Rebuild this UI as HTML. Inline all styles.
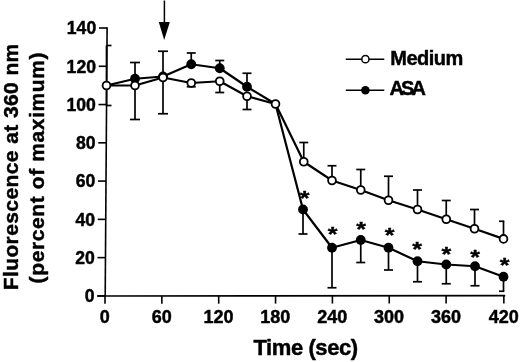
<!DOCTYPE html>
<html><head><meta charset="utf-8"><title>Fluorescence chart</title>
<style>html,body{margin:0;padding:0;background:#fff;overflow:hidden}svg{display:block;will-change:transform}text{font-family:"Liberation Sans",Arial,Helvetica,sans-serif;font-weight:bold;fill:#000;stroke:#000;stroke-width:0.45px;stroke-linejoin:round}</style></head><body>
<svg width="520" height="362" viewBox="0 0 520 362">
<rect width="520" height="362" fill="#fff"/>
<g stroke="#000" stroke-width="1.6" fill="none" stroke-linecap="butt">
<path d="M107.1 27.3 L105.2 296.6"/>
<path d="M97.3 296.0 L505.2 295.6"/>
<path d="M97.25 295.90 L105.25 295.90"/>
<path d="M97.50 257.63 L105.50 257.63"/>
<path d="M97.75 219.36 L105.75 219.36"/>
<path d="M98.00 181.09 L106.00 181.09"/>
<path d="M98.25 142.82 L106.25 142.82"/>
<path d="M98.50 104.55 L106.50 104.55"/>
<path d="M98.75 66.28 L106.75 66.28"/>
<path d="M99.00 28.01 L107.00 28.01"/>
<path d="M105.00 296.00 L105.00 303.80"/>
<path d="M161.85 295.94 L161.85 303.74"/>
<path d="M218.70 295.89 L218.70 303.69"/>
<path d="M275.55 295.83 L275.55 303.63"/>
<path d="M332.40 295.77 L332.40 303.57"/>
<path d="M389.25 295.71 L389.25 303.51"/>
<path d="M446.10 295.66 L446.10 303.46"/>
<path d="M503.85 295.60 L503.85 303.40"/>
</g>
<g stroke="#000" stroke-width="1.7" fill="none">
<path d="M106.5 45.5 L106.5 105.5"/>
<path d="M106.5 45.5 L111.5 45.5"/>
<path d="M106.5 105.5 L111.5 105.5"/>
<path d="M135 62.5 L135 119.5"/>
<path d="M130 62.5 L140 62.5"/>
<path d="M130 119.5 L140 119.5"/>
<path d="M163 51.25 L163 113.75"/>
<path d="M158 51.25 L168 51.25"/>
<path d="M158 113.75 L168 113.75"/>
<path d="M191.25 53 L191.25 64"/>
<path d="M186.75 53 L195.75 53"/>
<path d="M191.25 83 L191.25 86.75"/>
<path d="M186.75 86.75 L195.75 86.75"/>
<path d="M219.75 60.5 L219.75 68"/>
<path d="M215.25 60.5 L224.25 60.5"/>
<path d="M219.75 81 L219.75 92.5"/>
<path d="M215.25 92.5 L224.25 92.5"/>
<path d="M247 73.25 L247 87"/>
<path d="M242.5 73.25 L251.5 73.25"/>
<path d="M247 96 L247 109.5"/>
<path d="M242.5 109.5 L251.5 109.5"/>
<path d="M303.75 142.5 L303.75 161.75"/>
<path d="M299.25 142.5 L308.25 142.5"/>
<path d="M303 209.5 L303 234"/>
<path d="M298.5 234 L307.5 234"/>
<path d="M332 165.75 L332 180.5"/>
<path d="M327.5 165.75 L336.5 165.75"/>
<path d="M332 247.75 L332 287.75"/>
<path d="M327.5 287.75 L336.5 287.75"/>
<path d="M360.75 169.5 L360.75 190"/>
<path d="M356.25 169.5 L365.25 169.5"/>
<path d="M360.75 240 L360.75 262.5"/>
<path d="M356.25 262.5 L365.25 262.5"/>
<path d="M388.5 176.25 L388.5 200.25"/>
<path d="M384.0 176.25 L393.0 176.25"/>
<path d="M388.5 247.75 L388.5 270"/>
<path d="M384.0 270 L393.0 270"/>
<path d="M417.5 190 L417.5 209.5"/>
<path d="M413.0 190 L422.0 190"/>
<path d="M417.5 261.25 L417.5 281.75"/>
<path d="M413.0 281.75 L422.0 281.75"/>
<path d="M446.25 200.5 L446.25 219.25"/>
<path d="M441.75 200.5 L450.75 200.5"/>
<path d="M446.25 264.5 L446.25 283.75"/>
<path d="M441.75 283.75 L450.75 283.75"/>
<path d="M474.5 209.5 L474.5 228.75"/>
<path d="M470.0 209.5 L479.0 209.5"/>
<path d="M475 266.25 L475 285.75"/>
<path d="M470.5 285.75 L479.5 285.75"/>
<path d="M503.5 221.25 L503.5 238.75"/>
<path d="M499.0 221.25 L504.3 221.25"/>
<path d="M503.5 276.75 L503.5 291.25"/>
<path d="M499.0 291.25 L504.3 291.25"/>
</g>
<polyline points="106.5,85.5 135,78.75 163,76.5 191.25,64.25 219.75,68.25 247,86.75 275.5,104 303,209.5 332,247.75 360.75,240 388.5,247.75 417.5,261.25 446.25,264.5 475,266.25 503.5,276.75" fill="none" stroke="#000" stroke-width="2.2" stroke-linejoin="round"/>
<circle cx="135" cy="78.75" r="4.9" fill="#000"/>
<circle cx="163" cy="76.5" r="4.9" fill="#000"/>
<circle cx="191.25" cy="64.25" r="4.9" fill="#000"/>
<circle cx="219.75" cy="68.25" r="4.9" fill="#000"/>
<circle cx="247" cy="86.75" r="4.9" fill="#000"/>
<circle cx="303" cy="209.5" r="4.9" fill="#000"/>
<circle cx="332" cy="247.75" r="4.9" fill="#000"/>
<circle cx="360.75" cy="240" r="4.9" fill="#000"/>
<circle cx="388.5" cy="247.75" r="4.9" fill="#000"/>
<circle cx="417.5" cy="261.25" r="4.9" fill="#000"/>
<circle cx="446.25" cy="264.5" r="4.9" fill="#000"/>
<circle cx="475" cy="266.25" r="4.9" fill="#000"/>
<circle cx="503.5" cy="276.75" r="4.9" fill="#000"/>
<polyline points="106.5,85.5 135,85.5 163,77.5 191.25,83 219.75,81.25 247,96.25 275.5,104 303.75,161.75 332,180.5 360.75,190 388.5,200.25 417.5,209.5 446.25,219.25 474.5,228.75 503.5,238.9" fill="none" stroke="#000" stroke-width="2.2" stroke-linejoin="round"/>
<circle cx="106.5" cy="85.5" r="3.9" fill="#fff" stroke="#000" stroke-width="1.8"/>
<circle cx="135" cy="85.5" r="3.9" fill="#fff" stroke="#000" stroke-width="1.8"/>
<circle cx="163" cy="77.5" r="3.9" fill="#fff" stroke="#000" stroke-width="1.8"/>
<circle cx="191.25" cy="83" r="3.9" fill="#fff" stroke="#000" stroke-width="1.8"/>
<circle cx="219.75" cy="81.25" r="3.9" fill="#fff" stroke="#000" stroke-width="1.8"/>
<circle cx="247" cy="96.25" r="3.9" fill="#fff" stroke="#000" stroke-width="1.8"/>
<circle cx="275.5" cy="104" r="3.9" fill="#fff" stroke="#000" stroke-width="1.8"/>
<circle cx="303.75" cy="161.75" r="3.9" fill="#fff" stroke="#000" stroke-width="1.8"/>
<circle cx="332" cy="180.5" r="3.9" fill="#fff" stroke="#000" stroke-width="1.8"/>
<circle cx="360.75" cy="190" r="3.9" fill="#fff" stroke="#000" stroke-width="1.8"/>
<circle cx="388.5" cy="200.25" r="3.9" fill="#fff" stroke="#000" stroke-width="1.8"/>
<circle cx="417.5" cy="209.5" r="3.9" fill="#fff" stroke="#000" stroke-width="1.8"/>
<circle cx="446.25" cy="219.25" r="3.9" fill="#fff" stroke="#000" stroke-width="1.8"/>
<circle cx="474.5" cy="228.75" r="3.9" fill="#fff" stroke="#000" stroke-width="1.8"/>
<circle cx="503.5" cy="238.9" r="3.9" fill="#fff" stroke="#000" stroke-width="1.8"/>
<path d="M164.4 0.5 L164.4 23" stroke="#000" stroke-width="1.5"/>
<path d="M158.8 22 L169.8 22 L164.2 40 Z" fill="#000"/>
<path d="M345.8 59.2 L384.3 59.2 M345.8 90.2 L384.3 90.2" stroke="#000" stroke-width="1.6"/>
<circle cx="365.4" cy="59.2" r="3.6" fill="#fff" stroke="#000" stroke-width="1.5"/>
<circle cx="365.4" cy="90.2" r="4.3" fill="#000"/>
<text x="390.3" y="64.8" font-size="20" textLength="73" lengthAdjust="spacing">Medium</text>
<text x="389.5" y="95.3" font-size="20" textLength="36.5" lengthAdjust="spacing">ASA</text>
<text x="94.60" y="302.20" font-size="17.6" text-anchor="end">0</text>
<text x="94.83" y="263.93" font-size="17.6" text-anchor="end">20</text>
<text x="95.06" y="225.66" font-size="17.6" text-anchor="end">40</text>
<text x="95.29" y="187.39" font-size="17.6" text-anchor="end">60</text>
<text x="95.51" y="149.12" font-size="17.6" text-anchor="end">80</text>
<text x="95.74" y="110.85" font-size="17.6" text-anchor="end">100</text>
<text x="95.97" y="72.58" font-size="17.6" text-anchor="end">120</text>
<text x="96.20" y="34.31" font-size="17.6" text-anchor="end">140</text>
<text x="104.80" y="323.2" font-size="18" text-anchor="middle">0</text>
<text x="161.65" y="323.2" font-size="18" text-anchor="middle">60</text>
<text x="218.50" y="323.2" font-size="18" text-anchor="middle">120</text>
<text x="275.35" y="323.2" font-size="18" text-anchor="middle">180</text>
<text x="332.20" y="323.2" font-size="18" text-anchor="middle">240</text>
<text x="389.05" y="323.2" font-size="18" text-anchor="middle">300</text>
<text x="445.90" y="323.2" font-size="18" text-anchor="middle">360</text>
<text x="503.65" y="323.2" font-size="18" text-anchor="middle">420</text>
<text x="253.5" y="354.9" font-size="22" textLength="104.6" lengthAdjust="spacing">Time (sec)</text>
<text transform="translate(17.9 290.3) rotate(-90)" font-size="21" textLength="246.6" lengthAdjust="spacing">Fluorescence at 360 nm</text>
<text transform="translate(44.3 283.4) rotate(-90)" font-size="21" textLength="231" lengthAdjust="spacing">(percent of maximum)</text>
<text transform="translate(304.5 205.25) scale(1 0.84)" font-size="25" text-anchor="middle">*</text>
<text transform="translate(332.5 241.0) scale(1 0.84)" font-size="25" text-anchor="middle">*</text>
<text transform="translate(361 235.75) scale(1 0.84)" font-size="25" text-anchor="middle">*</text>
<text transform="translate(389.5 242.25) scale(1 0.84)" font-size="25" text-anchor="middle">*</text>
<text transform="translate(417 255.75) scale(1 0.84)" font-size="25" text-anchor="middle">*</text>
<text transform="translate(446.25 260.75) scale(1 0.84)" font-size="25" text-anchor="middle">*</text>
<text transform="translate(475 263.75) scale(1 0.84)" font-size="25" text-anchor="middle">*</text>
<text transform="translate(504.5 272.0) scale(1 0.84)" font-size="25" text-anchor="middle">*</text>
</svg></body></html>
